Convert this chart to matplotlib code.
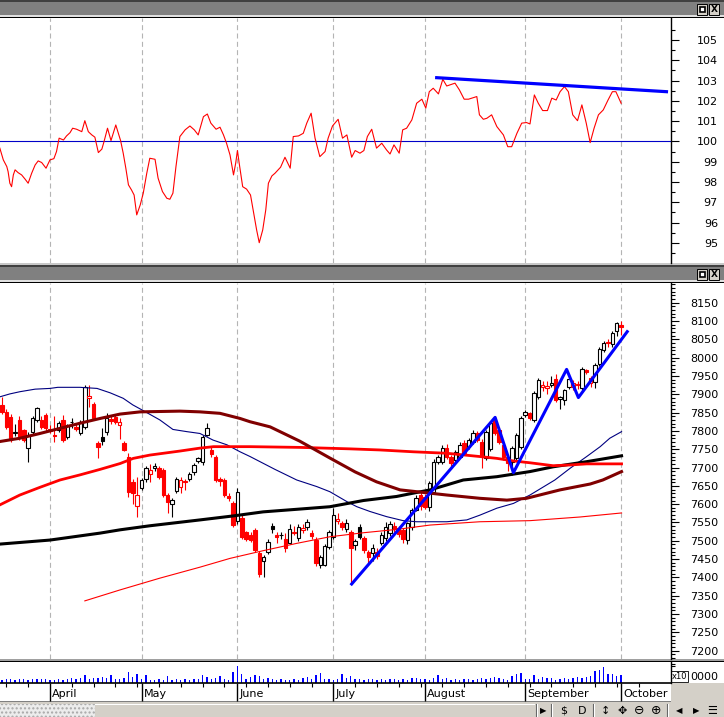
import numpy as np
import matplotlib
matplotlib.use("Agg")
import matplotlib.pyplot as plt
from matplotlib.patches import Rectangle

# ---------------- data ----------------
# daily candles, bar 0 = last days of March, bar 142 = 1 October
opens = [7871, 7852, 7838, 7793, 7830, 7802, 7753, 7797, 7830, 7830,
         7843, 7805, 7790, 7803, 7830, 7783, 7825, 7811, 7794, 7811,
         7890, 7873, 7767, 7783, 7797, 7832, 7838, 7815, 7767, 7729,
         7660, 7595, 7644, 7668, 7683, 7700, 7700, 7693, 7625, 7600,
         7635, 7648, 7660, 7668, 7688, 7718, 7715, 7790, 7748, 7729,
         7668, 7665, 7622, 7603, 7553, 7562, 7525, 7516, 7530, 7467,
         7445, 7470, 7540, 7515, 7517, 7505, 7494, 7522, 7508, 7530,
         7537, 7522, 7502, 7434, 7434, 7483, 7510, 7555, 7548, 7532,
         7524, 7488, 7538, 7508, 7470, 7467, 7470, 7494, 7508, 7520,
         7540, 7535, 7530, 7502, 7538, 7585, 7625, 7620, 7592, 7633,
         7715, 7715, 7753, 7729, 7720, 7730, 7767, 7756, 7770, 7795,
         7770, 7726, 7750, 7830, 7802, 7762, 7730, 7715, 7726, 7757,
         7843, 7848, 7830, 7893, 7920, 7918, 7925, 7942, 7887, 7884,
         7920, 7920, 7928, 7917, 7966, 7930, 7934, 7983, 8020, 8042,
         8037, 8073, 8090]
highs = [7893, 7860, 7845, 7818, 7840, 7806, 7798, 7840, 7865, 7840,
         7850, 7815, 7840, 7828, 7843, 7820, 7835, 7818, 7830, 7925,
         7925, 7880, 7772, 7808, 7849, 7840, 7845, 7835, 7772, 7740,
         7668, 7675, 7672, 7705, 7710, 7712, 7705, 7698, 7630, 7618,
         7675, 7675, 7668, 7688, 7712, 7730, 7788, 7822, 7755, 7735,
         7675, 7672, 7630, 7610, 7645, 7570, 7528, 7525, 7535, 7472,
         7462, 7505, 7548, 7525, 7525, 7520, 7545, 7540, 7545, 7545,
         7560, 7530, 7510, 7462, 7490, 7530, 7590, 7575, 7555, 7560,
         7530, 7505, 7545, 7512, 7475, 7490, 7480, 7525, 7552, 7555,
         7550, 7540, 7535, 7552, 7590, 7625, 7640, 7628, 7662, 7722,
         7735, 7762, 7765, 7735, 7748, 7770, 7775, 7782, 7802, 7800,
         7778, 7802, 7828, 7840, 7810, 7768, 7735, 7758, 7795, 7842,
         7858, 7852, 7908, 7945, 7935, 7935, 7950, 7955, 7895, 7915,
         7945, 7940, 7935, 7975, 7970, 7950, 7985, 8028, 8045, 8052,
         8072, 8098, 8100]
lows = [7846, 7805, 7770, 7785, 7775, 7770, 7715, 7790, 7825, 7805,
        7800, 7795, 7770, 7798, 7770, 7778, 7808, 7800, 7790, 7805,
        7866, 7830, 7726, 7761, 7790, 7820, 7818, 7778, 7745, 7620,
        7600, 7565, 7640, 7660, 7660, 7690, 7670, 7620, 7575, 7565,
        7630, 7630, 7640, 7662, 7680, 7712, 7708, 7785, 7730, 7660,
        7650, 7620, 7610, 7537, 7545, 7505, 7500, 7498, 7470, 7400,
        7400, 7465, 7520, 7495, 7505, 7470, 7490, 7515, 7500, 7520,
        7530, 7505, 7430, 7425, 7430, 7478, 7505, 7545, 7530, 7525,
        7385, 7475, 7505, 7468, 7440, 7445, 7450, 7488, 7500, 7512,
        7525, 7510, 7495, 7490, 7530, 7580, 7585, 7588, 7580, 7628,
        7710, 7710, 7722, 7705, 7712, 7725, 7735, 7750, 7765, 7770,
        7700, 7720, 7745, 7790, 7765, 7720, 7690, 7680, 7720, 7750,
        7838, 7830, 7825, 7888, 7910, 7900, 7920, 7880, 7860, 7872,
        7915, 7912, 7915, 7912, 7955, 7920, 7918, 7978, 8015, 8030,
        8030, 8060, 8062]
closes = [7852, 7811, 7781, 7797, 7781, 7775, 7790, 7835, 7862, 7811,
          7808, 7800, 7785, 7822, 7775, 7816, 7823, 7805, 7824, 7920,
          7895, 7835, 7756, 7772, 7835, 7828, 7825, 7823, 7748, 7633,
          7630, 7625, 7667, 7700, 7692, 7703, 7675, 7625, 7605, 7612,
          7670, 7665, 7662, 7682, 7707, 7725, 7783, 7808, 7737, 7665,
          7662, 7625, 7618, 7543, 7633, 7510, 7506, 7502, 7475, 7410,
          7457, 7497, 7532, 7510, 7516, 7480, 7532, 7525, 7538, 7535,
          7552, 7513, 7440, 7455, 7485, 7524, 7570, 7560, 7537, 7548,
          7480, 7500, 7510, 7475, 7456, 7480, 7458, 7515, 7538, 7545,
          7532, 7518, 7505, 7548, 7585, 7617, 7595, 7592, 7657, 7715,
          7728, 7753, 7729, 7712, 7742, 7762, 7740, 7775, 7795, 7775,
          7735, 7797, 7822, 7795, 7770, 7729, 7712, 7753, 7790, 7835,
          7852, 7835, 7903, 7939, 7925, 7922, 7930, 7884, 7892, 7911,
          7942, 7930, 7925, 7969, 7961, 7945, 7980, 8023, 8040, 8039,
          8067, 8095, 8085]
volume = [3, 4, 4, 3, 4, 4, 3, 4, 4, 4,
          4, 3, 3, 4, 3, 4, 5, 4, 5, 8,
          4, 5, 5, 6, 5, 8, 4, 4, 5, 11,
          6, 9, 4, 8, 3, 3, 4, 3, 7, 3,
          4, 3, 4, 3, 4, 4, 8, 6, 4, 5,
          7, 4, 3, 11, 17, 9, 4, 6, 8, 7,
          4, 5, 4, 3, 4, 3, 3, 4, 3, 5,
          6, 4, 8, 10, 4, 4, 3, 4, 9, 5,
          7, 4, 4, 3, 4, 4, 3, 4, 3, 4,
          4, 3, 4, 3, 5, 5, 4, 4, 3, 5,
          8, 4, 5, 3, 4, 3, 4, 4, 3, 4,
          5, 4, 5, 6, 5, 4, 3, 7, 9, 10,
          4, 4, 8, 4, 6, 5, 5, 3, 4, 5,
          4, 5, 6, 5, 6, 7, 12, 13, 16, 9,
          9, 7, 8]

month_start = [11, 32, 54, 76, 97, 120, 142]
month_names = ['April', 'May', 'June', 'July', 'August', 'September', 'October']

# oscillator of the upper window (traced vertices, bar positions)
osc_day = [-0.5, 0.3, 1.1, 1.4, 1.8, 2.2, 2.6, 3.0, 3.7, 4.5,
           5.3, 6.0, 6.8, 7.6, 8.3, 9.1, 10.1, 11.0, 11.9, 12.5,
           13.1, 14.1, 14.8, 15.6, 16.2, 17.1, 18.3, 19.0, 19.8, 20.6,
           21.3, 22.1, 22.9, 23.4, 24.2, 25.0, 26.1, 27.2, 27.8, 28.4,
           29.0, 29.7, 30.3, 30.9, 31.7, 32.4, 33.2, 33.9, 35.1, 35.8,
           36.8, 37.8, 38.5, 39.2, 39.9, 40.8, 42.0, 43.1, 44.1, 45.0,
           46.2, 47.1, 47.9, 49.1, 50.0, 50.8, 51.5, 52.3, 53.1, 53.6,
           54.0, 54.4, 55.2, 56.1, 57.0, 57.6, 58.4, 59.0, 59.8, 60.5,
           61.1, 61.9, 62.6, 63.9, 64.9, 66.1, 66.8, 68.0, 69.1, 69.9,
           70.9, 71.8, 72.9, 74.1, 74.8, 75.8, 77.1, 78.1, 79.1, 80.2,
           81.0, 82.1, 83.0, 83.8, 84.8, 85.9, 87.1, 88.2, 89.0, 89.9,
           90.5, 91.1, 91.9, 92.8, 94.0, 95.1, 96.3, 97.2, 98.0, 98.9,
           100.1, 101.1, 102.0, 103.9, 104.9, 106.0, 107.0, 108.9, 109.5, 110.4,
           111.2, 112.3, 113.5, 115.0, 116.0, 116.9, 118.1, 119.2, 120.3, 121.1,
           122.1, 123.0, 124.0, 125.1, 126.1, 127.1, 128.0, 129.0, 129.9, 130.9,
           132.0, 133.0, 134.0, 134.9, 135.8, 136.8, 137.9, 139.0, 140.0, 140.8,
           142.0]
osc_val = [99.67, 99.09, 98.76, 98.51, 97.94, 97.77, 98.35, 98.60, 98.46, 98.35,
           98.14, 97.94, 98.43, 98.84, 99.04, 98.96, 98.68, 99.09, 99.15, 99.50,
           100.16, 100.07, 100.27, 100.43, 100.65, 100.60, 100.48, 101.02, 100.48, 100.32,
           100.21, 99.45, 99.62, 99.99, 100.65, 100.04, 100.81, 100.04, 99.42, 98.68,
           97.86, 97.61, 97.36, 96.38, 96.87, 97.45, 98.43, 99.17, 99.12, 98.19,
           97.53, 97.20, 97.15, 97.45, 98.76, 100.24, 100.57, 100.76, 100.57, 100.32,
           101.22, 101.35, 100.90, 100.60, 100.70, 100.32, 99.91, 99.33, 98.35, 98.93,
           99.55, 98.93, 97.77, 97.65, 97.36, 96.63, 95.64, 95.01, 95.64, 96.63,
           97.94, 98.30, 98.43, 98.73, 99.22, 98.68, 100.24, 100.27, 100.40, 100.90,
           101.39, 100.16, 99.25, 99.50, 100.16, 100.76, 101.09, 100.16, 100.32, 99.22,
           99.55, 99.42, 99.55, 100.24, 100.60, 99.67, 99.91, 99.58, 99.38, 99.83,
           99.63, 99.42, 100.57, 100.65, 101.06, 101.88, 102.08, 101.64, 102.45, 102.62,
           102.34, 103.06, 102.73, 102.87, 102.54, 102.08, 102.08, 102.21, 101.31, 101.09,
           101.14, 101.31, 100.73, 100.32, 99.74, 99.74, 100.40, 100.90, 100.93, 100.86,
           102.29, 101.88, 101.52, 101.52, 102.13, 102.04, 102.45, 102.70, 102.45, 101.31,
           101.02, 101.80, 100.90, 99.94, 100.65, 101.31, 101.55, 102.04, 102.45, 102.45,
           101.88]
osc_trend_day = [99.7, 152.4]
osc_trend_val = [103.14, 102.45]

# moving averages (sampled every few bars)
ma_blue_day = [-0.5, 1.8, 4.1, 7.6, 11.0, 12.8, 17.9, 21.8, 24.8, 27.8,
               30.0, 32.3, 36.2, 39.2, 42.4, 45.4, 48.4, 51.6, 54.6, 56.9,
               62.6, 67.6, 72.2, 75.2, 79.1, 81.4, 84.4, 88.2, 92.0, 95.1,
               102.0, 106.6, 109.6, 113.5, 117.3, 121.1, 126.8, 130.3, 134.1, 137.2,
               139.4, 142.1]
ma_blue = [7893, 7901, 7907, 7914, 7916, 7919, 7919, 7916, 7904, 7889,
           7871, 7856, 7830, 7804, 7798, 7793, 7775, 7762, 7743, 7730,
           7695, 7666, 7648, 7634, 7607, 7593, 7580, 7566, 7555, 7552,
           7552, 7557, 7570, 7589, 7602, 7625, 7666, 7698, 7730, 7757,
           7780, 7798]
ma_maroon_day = [-0.5, 4.1, 8.7, 13.3, 17.9, 22.5, 27.1, 31.7, 40.8, 45.4,
                 50.0, 54.6, 56.9, 61.5, 68.3, 75.2, 81.0, 85.9, 91.3, 98.2,
                 102.0, 109.6, 115.8, 120.3, 128.0, 134.9, 137.8, 142.1]
ma_maroon = [7771, 7780, 7793, 7807, 7821, 7834, 7846, 7852, 7854, 7852,
             7848, 7834, 7825, 7811, 7772, 7726, 7688, 7661, 7639, 7630,
             7625, 7616, 7611, 7616, 7639, 7655, 7666, 7689]
ma_red_day = [-0.5, 4.1, 8.7, 13.3, 17.9, 22.5, 27.1, 30.1, 33.9, 40.8,
              45.4, 48.5, 56.9, 68.3, 79.8, 86.7, 94.3, 102.0, 109.6, 113.5,
              117.3, 121.1, 126.4, 130.3, 134.1, 142.1]
ma_red = [7598, 7625, 7646, 7666, 7680, 7695, 7711, 7725, 7734, 7745,
          7753, 7757, 7757, 7755, 7751, 7748, 7743, 7739, 7730, 7725,
          7718, 7713, 7705, 7707, 7710, 7710]
ma_black_day = [-0.5, 11.0, 22.5, 27.1, 33.9, 45.4, 53.1, 59.9, 67.6, 75.2,
                82.9, 90.5, 94.3, 98.2, 105.8, 113.5, 121.1, 126.4, 134.1, 142.1]
ma_black = [7491, 7502, 7521, 7530, 7541, 7557, 7568, 7579, 7586, 7593,
            7610, 7621, 7630, 7639, 7666, 7675, 7689, 7702, 7716, 7732]
ma_thin_day = [19.0, 27.1, 36.2, 45.4, 52.3, 59.9, 67.6, 75.2, 82.9, 90.5,
               98.2, 109.6, 121.1, 132.6, 142.1]
ma_thin = [7336, 7366, 7398, 7428, 7452, 7473, 7493, 7511, 7522, 7531,
           7543, 7552, 7555, 7565, 7576]

# hand drawn trend lines
trend_day = [80.2, 113.1, 117.3, 129.5, 132.2, 143.4]
trend_price = [7382, 7837, 7686, 7968, 7891, 8071]

# ---------------- figure ----------------
W, H = 724, 717
fig = plt.figure(figsize=(W / 100, H / 100), dpi=100)
fig.patch.set_facecolor('white')


def frac(x0, y0, x1, y1):
    # pixel box, origin top left -> figure fraction
    return [x0 / W, 1 - y1 / H, (x1 - x0) / W, (y1 - y0) / H]


bg = fig.add_axes([0, 0, 1, 1])
bg.set_xlim(0, W)
bg.set_ylim(H, 0)
bg.axis('off')


def block(x0, y0, x1, y1, fc, ec='none', lw=0, **kw):
    bg.add_patch(Rectangle((x0, y0), x1 - x0, y1 - y0, facecolor=fc,
                           edgecolor=ec, linewidth=lw, **kw))


def title_bar(top):
    block(0, top, W, top + 1.5, '#404040')
    block(0, top + 1.5, W, top + 15, '#808080')
    block(0, top + 15, W, top + 16.5, '#e0e0e0')
    block(0, top + 16.5, W, top + 18, 'black')
    block(697, top + 3.5, 707, top + 14.5, '#d4d0c8', ec='black', lw=0.7)
    block(699.5, top + 6.5, 704.5, top + 11.5, 'white', ec='black', lw=1.2)
    block(709, top + 3.5, 719, top + 14.5, '#d4d0c8', ec='black', lw=0.7)
    bg.text(714, top + 9.3, 'X', ha='center', va='center', fontsize=6.5,
            fontweight='bold')


title_bar(0)
block(0, 263, W, 265, '#c8c8c8')
title_bar(265)
block(0, 659, W, 660.5, '#a0a0a0')
block(0, 660.5, W, 662, 'black')
block(671, 683, W, 702, '#d4d0c8')
block(0, 700.5, 671, 702, '#808080')
block(0, 702, W, 717, '#d4d0c8')
block(0, 703.5, 95, 717, '#ececec', ec='#a8a8a8', lw=0.01, hatch='....')
block(95, 703.5, 535, 704.5, 'white')
for xs in [536, 551, 593, 667]:
    bg.plot([xs, xs], [704, 716], color='#606060', lw=0.8)
    bg.plot([xs + 1.2, xs + 1.2], [704, 716], color='white', lw=0.8)
icons = [(543, '▶', 6), (564, '$', 8), (582, 'D', 8), (605, '↕', 8),
         (622, '✥', 8), (639, '⊖', 9), (656, '⊕', 9), (679, '◀', 6),
         (696, '▶', 6), (712, '☰', 8)]
for xi, glyph, fs in icons:
    bg.text(xi, 710.5, glyph, ha='center', va='center', fontsize=fs)
bg.text(718, 676.5, '0000', ha='right', va='center', fontsize=8)
bg.text(679, 676.5, 'x10', ha='center', va='center', fontsize=6,
        bbox=dict(boxstyle='square,pad=0.15', fc='white', ec='black', lw=0.6))

ax_osc = fig.add_axes(frac(0, 18, 671, 263))
ax_px = fig.add_axes(frac(0, 283, 671, 659))
ax_vol = fig.add_axes(frac(0, 662, 671, 682.5))

xlim = (-2 / 4.36, 669 / 4.36)
grid_style = dict(color='#b4b4b4', lw=0.8, ls=(0, (4.5, 3)), zorder=1)


def right_axis(ax, major, minor):
    for s in ['top', 'left', 'bottom']:
        ax.spines[s].set_visible(False)
    ax.spines['right'].set_linewidth(1.0)
    ax.yaxis.tick_right()
    ax.set_yticks(major)
    ax.set_yticks(minor, minor=True)
    ax.tick_params(axis='y', which='major', length=5.8, width=0.8, pad=28,
                   labelsize=8)
    ax.tick_params(axis='y', which='minor', length=2.9, width=0.8)
    for tick in ax.yaxis.get_major_ticks():
        tick.label2.set_horizontalalignment('right')
    ax.set_xticks([])
    ax.set_xlim(*xlim)


# upper window: oscillator
right_axis(ax_osc, np.arange(95, 106), np.arange(94.5, 106, 1.0))
ax_osc.set_ylim(94.01, 106.08)
for m in month_start:
    ax_osc.axvline(m, **grid_style)
ax_osc.axhline(100, color='#0000c8', lw=0.8, zorder=2)
ax_osc.plot(osc_day, osc_val, color='#ff0000', lw=0.8, zorder=3)
ax_osc.plot(osc_trend_day, osc_trend_val, color='#0000ff', lw=2.3, zorder=4)

# price window
right_axis(ax_px, np.arange(7200, 8151, 50), np.arange(7180, 8201, 10))
ax_px.set_ylim(7177.3, 8203.8)
for m in month_start:
    ax_px.axvline(m, **grid_style)

days = np.arange(len(closes))
o = np.array(opens, float)
c = np.array(closes, float)
prev = np.r_[o[0], c[:-1]]
face, edge = [], []
for oi, ci, pi in zip(o, c, prev):
    if ci >= oi:
        face.append('white')
        edge.append('black' if ci >= pi else 'red')
    else:
        face.append('red' if ci < pi else 'black')
        edge.append('red' if ci < pi else 'black')
ax_px.vlines(days, lows, highs, colors=edge, lw=0.8, zorder=2)
ax_px.bar(days, np.abs(c - o), bottom=np.minimum(o, c), width=0.78,
          color=face, edgecolor=edge, linewidth=0.8, zorder=3)

ax_px.plot(ma_thin_day, ma_thin, color='#ff0000', lw=0.8, zorder=4)
ax_px.plot(ma_blue_day, ma_blue, color='#000080', lw=0.8, zorder=4)
ax_px.plot(ma_black_day, ma_black, color='black', lw=2.2, zorder=4)
ax_px.plot(ma_red_day, ma_red, color='#ff0000', lw=2.0, zorder=4)
ax_px.plot(ma_maroon_day, ma_maroon, color='#800000', lw=2.2, zorder=4)
ax_px.plot(trend_day, trend_price, color='#0000ff', lw=2.2, zorder=5)

# volume window with the date scale below it
for s in ['top', 'left']:
    ax_vol.spines[s].set_visible(False)
ax_vol.spines['right'].set_linewidth(1.0)
ax_vol.spines['bottom'].set_linewidth(1.2)
ax_vol.bar(days, volume, width=0.32, color='#0000ff', linewidth=0)
ax_vol.set_xlim(*xlim)
ax_vol.set_ylim(0, 20.5)
ax_vol.yaxis.tick_right()
ax_vol.set_yticks([])
ax_vol.set_yticks([16.5, 18.5], minor=True)
ax_vol.tick_params(axis='y', which='minor', length=2.9, width=0.8)
ax_vol.set_xticks(month_start)
ax_vol.set_xticks(np.arange(1, 150, 5), minor=True)
ax_vol.tick_params(axis='x', which='major', length=13, width=1.0,
                   labelbottom=False)
ax_vol.tick_params(axis='x', which='minor', length=3, width=0.8)
for m, name in zip(month_start, month_names):
    ax_vol.annotate(name, xy=(m, 0), xycoords=('data', 'axes fraction'),
                    xytext=(2, -11.5), textcoords='offset pixels',
                    ha='left', va='center', fontsize=8)

fig.savefig('out.png', dpi=100)
